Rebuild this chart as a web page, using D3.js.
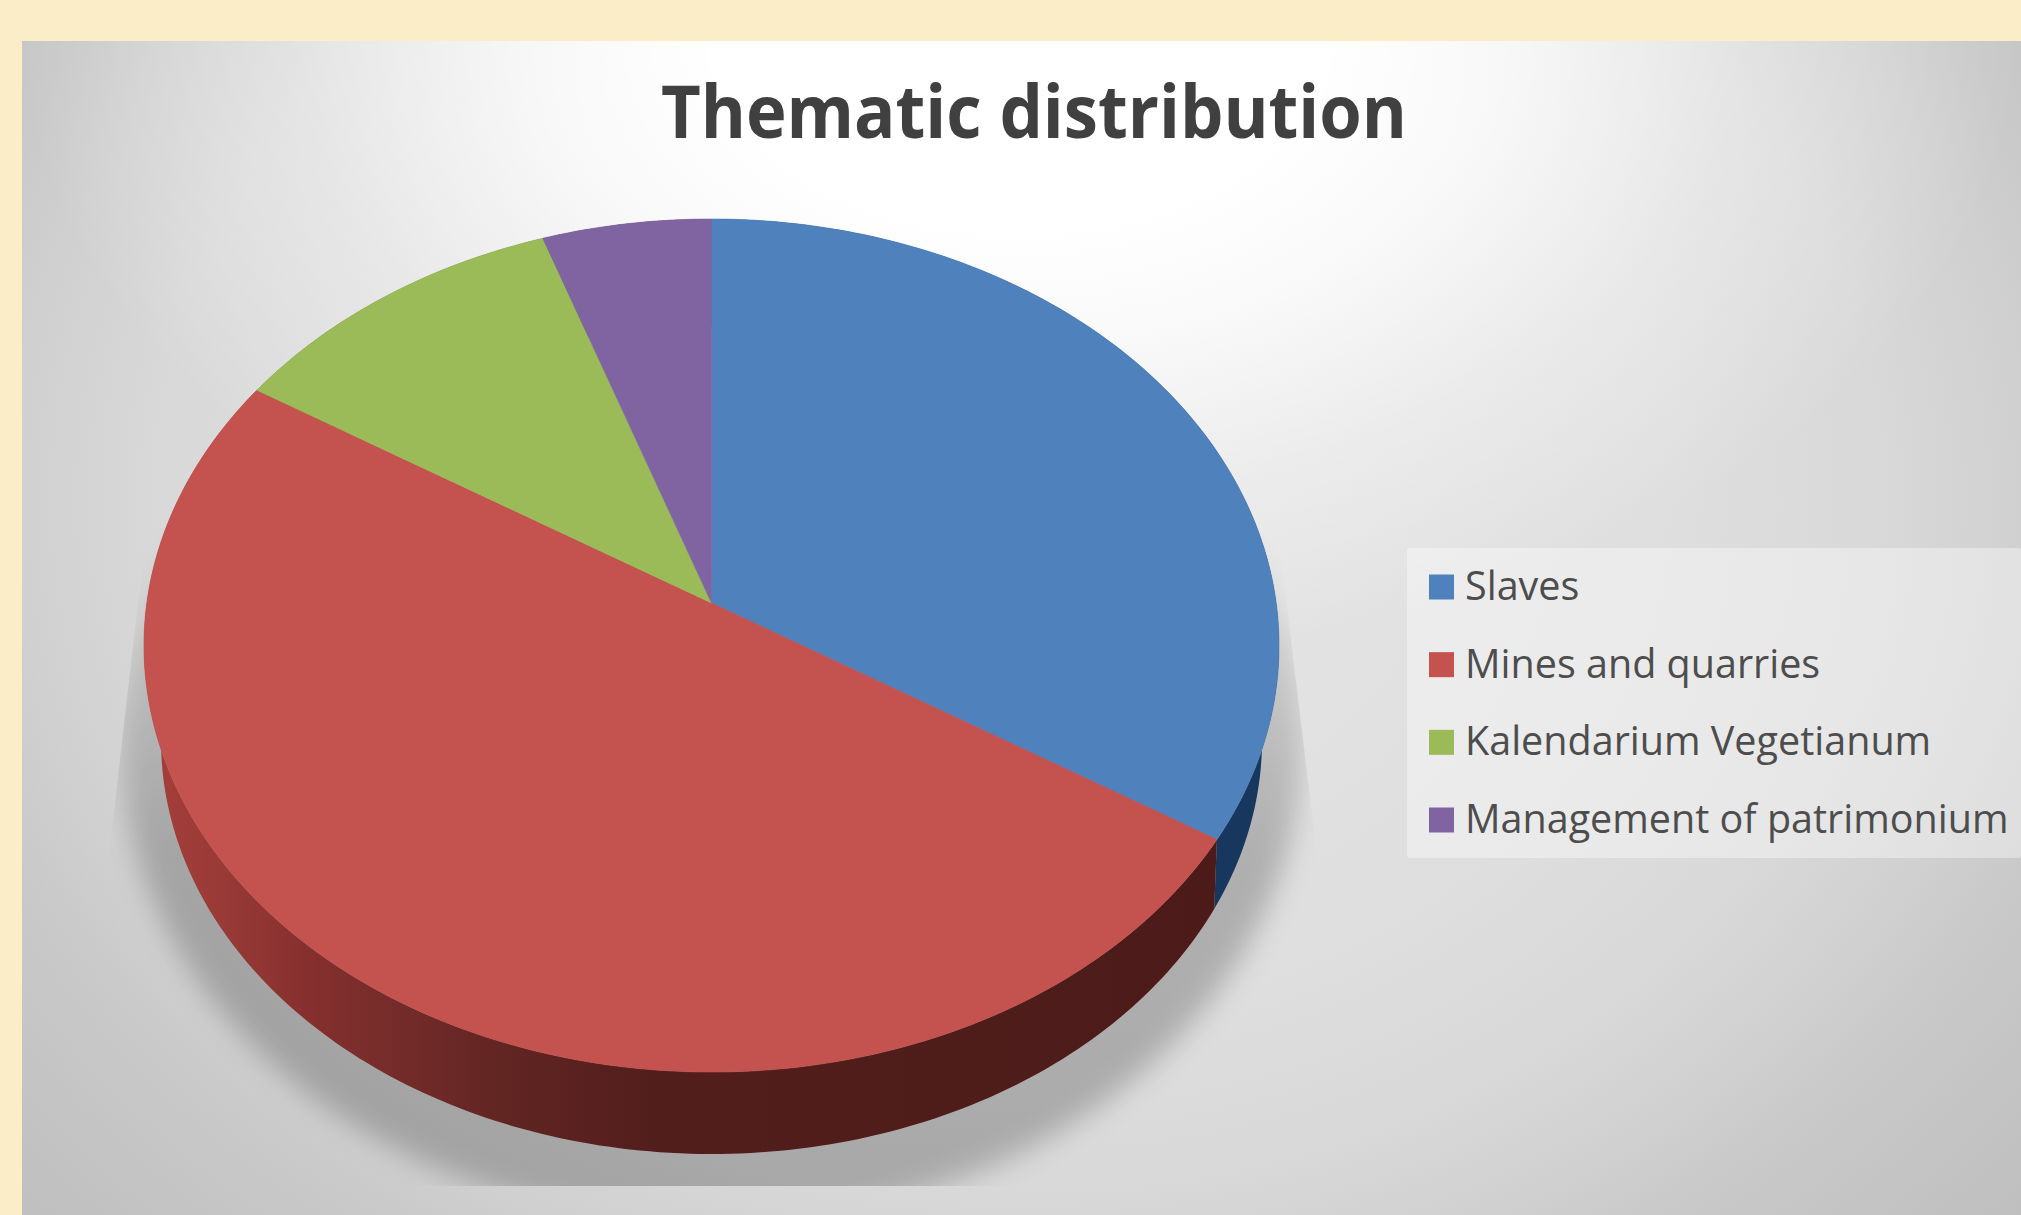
<!DOCTYPE html>
<html>
<head>
<meta charset="utf-8">
<script src="https://cdn.jsdelivr.net/npm/d3@7"></script>
<style>
  html, body { margin: 0; padding: 0; background: #fcedc9; overflow: hidden; }
  svg { display: block; }
</style>
</head>
<body>
<div id="chart"></div>
<script>
const chartTitle = "Thematic distribution";
const categories = ["Slaves", "Mines and quarries", "Kalendarium Vegetianum", "Management of patrimonium"];
const shares = [33.9, 50, 10.8, 5.3];
const topColors = ["#4f81bd", "#c4524f", "#9bbb59", "#8064a2"];

const width = 2021;
const height = 1215;

// the pie lies in a plane seen in perspective, so the apex is above the ellipse centre
const view = { cx: 711.5, cy: 603, a: 564.7, b: 422.3, k: 0.0997 };
const base = { scale: 0.97, drop: 96, twist: -0.05 };

function project(angle, radius, isBase) {
  const s = isBase ? base.scale : 1;
  const d = isBase ? base.drop : 0;
  const t = isBase ? angle + base.twist : angle;
  const u = radius * Math.sin(t);
  const v = -radius * Math.cos(t);
  const w = 1 - view.k * v;
  return [view.cx + s * view.a * u / w, view.cy + d + s * view.b * v / w];
}

function arcPoints(start, end, isBase) {
  const n = Math.max(2, Math.ceil((end - start) * 60));
  return d3.range(n + 1).map(i => project(start + (end - start) * i / n, 1, isBase));
}

function addStops(gradient, stops) {
  stops.forEach(s => {
    gradient.append("stop")
      .attr("offset", s[0])
      .attr("stop-color", s[1])
      .attr("stop-opacity", s[2] === undefined ? 1 : s[2]);
  });
}

const svg = d3.select("#chart")
  .append("svg")
  .attr("width", width)
  .attr("height", height);

const defs = svg.append("defs");

// grey plate with a white glow under the title
const bg = defs.append("radialGradient")
  .attr("id", "bg")
  .attr("gradientUnits", "userSpaceOnUse")
  .attr("cx", 0).attr("cy", 0).attr("r", 1)
  .attr("gradientTransform", "translate(1020, 500) scale(1340, 1072)");
addStops(bg, [[0, "#e6e6e6"], [0.27, "#e2e2e2"], [0.49, "#dedede"], [0.65, "#d8d8d8"], [0.75, "#d0d0d0"], [0.82, "#c9c9c9"], [1, "#bfbfbf"]]);

const glow = defs.append("radialGradient")
  .attr("id", "glow")
  .attr("gradientUnits", "userSpaceOnUse")
  .attr("cx", 0).attr("cy", 0).attr("r", 1)
  .attr("gradientTransform", "translate(1020, 41) scale(1000, 625)");
addStops(glow, [[0, "#fff", 1], [0.3, "#fff", 1], [0.48, "#fff", 0.8], [0.72, "#fff", 0.33], [1, "#fff", 0]]);

const blur = defs.append("filter")
  .attr("id", "soft")
  .attr("x", "-10%").attr("y", "-10%")
  .attr("width", "120%").attr("height", "120%");
blur.append("feGaussianBlur").attr("stdDeviation", 14);

const shadeFade = defs.append("linearGradient")
  .attr("id", "shadeFade")
  .attr("gradientUnits", "userSpaceOnUse")
  .attr("x1", 0).attr("y1", 500)
  .attr("x2", 0).attr("y2", 860);
addStops(shadeFade, [[0, "#000", 0], [0.42, "#000", 0.12], [1, "#000", 0.22]]);

defs.append("clipPath")
  .attr("id", "shadeClip")
  .append("polygon")
  .attr("points", "148,515 108,864 108,1186 1318,1186 1318,864 1276,515");

const redWall = defs.append("linearGradient")
  .attr("id", "wall1")
  .attr("gradientUnits", "userSpaceOnUse")
  .attr("x1", 150).attr("y1", 0)
  .attr("x2", 1220).attr("y2", 0);
addStops(redWall, [[0, "#a63e3b"], [0.07, "#983a36"], [0.15, "#852f2e"], [0.23, "#742c2a"], [0.33, "#612522"], [0.47, "#521e1c"], [1, "#4c1b19"]]);

["url(#bg)", "url(#glow)"].forEach(fill => {
  svg.append("rect")
    .attr("x", 22)
    .attr("y", 41)
    .attr("width", width - 22)
    .attr("height", height - 41)
    .attr("fill", fill);
});

// drop shadow under the disc
svg.append("g")
  .attr("clip-path", "url(#shadeClip)")
  .append("ellipse")
  .attr("cx", view.cx)
  .attr("cy", 745)
  .attr("rx", 590)
  .attr("ry", 478)
  .attr("fill", "url(#shadeFade)")
  .attr("filter", "url(#soft)");

const pie = d3.pie().sort(null).value(d => d);
const slices = pie(shares);
const line = d3.line();

// side walls first, the top face covers whatever lies behind it
svg.append("g")
  .selectAll("path")
  .data(slices)
  .enter()
  .append("path")
  .attr("d", d => {
    const outer = arcPoints(d.startAngle, d.endAngle, false);
    const under = arcPoints(d.startAngle, d.endAngle, true).reverse();
    return line(outer.concat(under)) + "Z";
  })
  .attr("fill", (d, i) => i === 0 ? "#17375e" : i === 1 ? "url(#wall1)" : d3.color(topColors[i]).darker(1.5));

svg.append("g")
  .selectAll("path")
  .data(slices)
  .enter()
  .append("path")
  .attr("d", d => {
    const apex = project(0, 0, false);
    return line([apex].concat(arcPoints(d.startAngle, d.endAngle, false))) + "Z";
  })
  .attr("fill", (d, i) => topColors[i])
  .attr("stroke", (d, i) => topColors[i])
  .attr("stroke-width", 0.6);

svg.append("text")
  .attr("x", 1034)
  .attr("y", 138)
  .attr("text-anchor", "middle")
  .attr("textLength", 746)
  .attr("lengthAdjust", "spacingAndGlyphs")
  .style("font-family", "'Open Sans'")
  .style("font-weight", "bold")
  .style("font-size", "74px")
  .style("fill", "#404040")
  .text(chartTitle);

// legend
svg.append("rect")
  .attr("x", 1407)
  .attr("y", 548)
  .attr("width", width - 1407)
  .attr("height", 310)
  .attr("rx", 3)
  .attr("fill", "#fff")
  .attr("fill-opacity", 0.38);

const legendY = d3.scalePoint()
  .domain(categories)
  .range([587, 820]);

const legendRows = svg.append("g")
  .selectAll("g")
  .data(categories)
  .enter()
  .append("g")
  .attr("transform", d => `translate(1429, ${legendY(d)})`);

legendRows.append("rect")
  .attr("x", 0)
  .attr("y", -12.5)
  .attr("width", 25)
  .attr("height", 25)
  .attr("fill", (d, i) => topColors[i]);

legendRows.append("text")
  .attr("x", 36)
  .attr("y", 13)
  .style("font-family", "'Open Sans'")
  .style("font-size", "39.5px")
  .style("fill", "#4d4d4d")
  .text(d => d);
</script>
</body>
</html>
